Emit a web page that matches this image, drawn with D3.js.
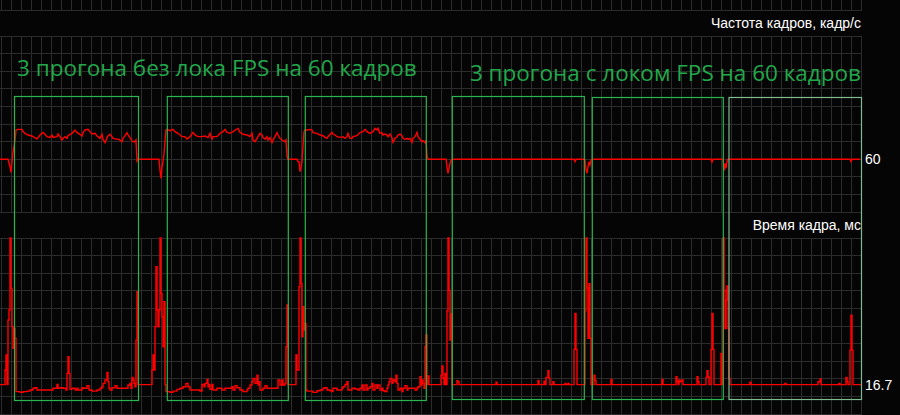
<!DOCTYPE html>
<html>
<head>
<meta charset="utf-8">
<script src="https://cdn.jsdelivr.net/npm/d3@7/dist/d3.min.js"></script>
<style>
  html, body { margin: 0; padding: 0; background: #050505; }
  svg { display: block; }
</style>
</head>
<body>
<div id="chart"></div>
<script>
const wh = 900,
    ht = 415;

// framerate, [sample, fps]
const fpsData = [
  [0,60],[8,60],[10,51.5],[11,45],[12,57],[13,68],[15,80.7],[16,93.2],[18,93.9],[22,93.9],[23,91.3],[25,89.4],
  [28,87.5],[32,86.4],[33,85.6],[37,83],[38,84.5],[40,87.5],[43,90.5],[45,88.3],[47,85.6],[50,84.8],[52,87.5],
  [53,84.8],[57,85.6],[58,88.6],[60,85.6],[62,81.8],[63,83.7],[65,85.6],[67,83.7],[68,86.7],[72,89.4],[75,93.2],
  [77,90.5],[80,88.3],[82,86.4],[83,90.2],[85,93.2],[88,93.9],[90,91.3],[92,88.6],[95,89.4],[97,86.4],[98,85.6],
  [100,83.7],[102,88.3],[103,82.6],[105,78.8],[107,84.5],[108,86.4],[110,88.3],[112,85.6],[113,83.7],[117,82.6],
  [118,83],[120,81.8],[122,79.9],[123,83.7],[125,86.7],[127,90.2],[128,87.5],[130,84.5],[132,81.1],[133,79.9],
  [135,79.9],[136,81.8],[137,58],[138,60],
  [159,60],[160,47.7],[161,38.2],[162,50.7],[163,57],[164,66],[165,80],[166,93.2],
  [167,93.9],[170,92.4],[173,93.9],[175,91.3],[178,89.4],[182,85.6],[185,85.6],[187,83],[190,85.6],[193,90.5],
  [195,87.5],[198,85.6],[202,85.6],[205,86.4],[208,84.5],[210,89.4],[212,83],[213,85.6],[217,85.6],[220,89.4],
  [223,91.3],[225,93.9],[227,90.5],[230,89.4],[233,91.3],[237,94.3],[238,95],[240,90.5],[243,88.3],[247,87.5],
  [250,85.6],[252,89.4],[253,81.8],[255,79.9],[257,83.7],[258,85.6],[260,89.4],[262,87.5],[263,84.5],[265,83],
  [267,85.6],[268,81.8],[270,84.5],[272,78.8],[273,81.8],[275,85.6],[277,90.2],[278,87.5],[280,83.7],[282,81.8],
  [283,81.1],[285,79.9],[286,81.8],[287,63],[288,60],
  [297,60],[298,57.2],[299,57.2],[300,45.8],[301,50.7],[302,57.2],[303,74.2],[304,91.3],
  [305,93.2],[307,93.2],[310,93.9],[312,93.2],[313,90.2],[317,89.4],[320,87.5],[323,86.7],[325,84.8],[327,83.7],
  [328,85.6],[332,90.5],[333,88.6],[335,87.5],[337,85.6],[340,84.8],[343,85.6],[345,83.7],[347,85.6],[348,89.4],
  [350,83.7],[352,83.7],[353,85.6],[357,86.7],[360,90.2],[363,91.3],[365,93.9],[367,91.3],[370,89.4],[373,91.3],
  [375,95],[377,93.2],[378,95],[380,89.4],[382,90.2],[383,87.5],[385,88.6],[387,87.5],[388,85.6],[390,88.6],
  [392,84.5],[393,79.1],[395,83.7],[397,85.6],[398,87.5],[400,88.6],[402,86.7],[403,83.7],[405,82.6],[407,83.7],
  [408,82.6],[410,83.7],[412,79.1],[413,83.7],[415,85.6],[417,90.5],[418,85.6],[420,82.6],[422,79.9],[423,81.1],
  [425,78.8],[426,81.8],[427,64.7],[428,60],
  [446,60],[447,51.5],[448,43.9],[449,49.6],[450,55.3],[451,58.3],[452,60],
  [574,60],[575,57.2],[576,60],
  [585,60],[586,47.7],[587,44],[588,51.5],[589,57.2],[590,53.4],[591,58.3],[592,60],
  [711,60],[712,56.8],[713,60],
  [723,60],[724,47],[725,55.3],[726,49.6],[727,57.2],[728,60],
  [850,60],[851,57.2],[852,60],[860,60]
];

// frame time, [sample, ms]
const frametimeData = [
  [0,16.7],[5,25],[6,33.5],[7,16.7],[8,53.4],[9,59.1],[10,100],[11,71.4],[12,49.6],[13,37.3],[14,48.6],[15,43],
  [16,12.7],[20,12.3],[23,12.7],[27,13],[30,13.6],[33,14.6],[35,14.9],[37,13.6],[43,13.6],[50,13.6],[53,14.6],
  [57,16.8],[58,14.6],[60,14.9],[63,14.6],[66,13.6],[67,23.1],[68,32.5],[69,23.1],[70,14],[72,14.6],[75,13.6],
  [77,14.6],[78,13.6],[82,14.9],[83,14.6],[87,16.1],[89,13.6],[92,13],[97,13.6],[100,14.6],[102,15.5],[103,17.4],
  [105,19.3],[107,23.6],[108,18.3],[109,14.6],[110,13.6],[112,14.9],[115,16.1],[117,14.6],[120,14.6],[123,14.6],
  [127,14.6],[128,16.5],[130,17.4],[131,14.6],[132,20.8],[133,19.3],[134,17.4],[135,15.5],[136,42],[137,69.5],
  [138,16.7],[152,25],[153,33.5],[154,25],[155,49.6],[156,83.7],[157,59.1],[158,49.6],[159,59.1],[160,100],
  [161,68.5],[162,55.3],[163,38.2],[164,63.8],[165,16.7],
  [166,12.7],[170,12.3],[173,13],[177,14],[180,14.6],[183,15.5],[186,17.4],[188,15.5],[190,13.6],[197,13.6],
  [200,13],[202,16.8],[204,15.5],[205,17.4],[207,19.7],[208,15.5],[209,16.8],[210,14],[212,16.8],[213,13.6],
  [217,14.6],[222,13.6],[225,14.6],[232,15.5],[233,13.6],[235,16.1],[237,14.9],[240,13.6],[243,12.7],[247,13.6],
  [248,14.6],[250,16.5],[252,18.3],[253,20.2],[255,17.4],[257,22.1],[258,16.5],[259,18.3],[260,13.6],[263,14.6],
  [265,16.1],[267,14.6],[278,19.3],[280,16.5],[282,19.3],[283,16.5],[285,17.4],[286,38.2],[287,61.9],
  [288,16.7],[296,33.5],[297,25],[299,72.3],[300,100],[301,74.2],[302,43.9],[303,61],[304,47.7],[305,51.5],
  [306,13.6],[307,13],[310,13],[313,12.3],[317,13.2],[320,13.6],[323,14.6],[325,14.9],[327,13.6],[330,13.2],
  [332,12.7],[333,14.6],[337,13.6],[342,14.6],[343,15.5],[345,16.8],[347,18.3],[348,13.6],[352,14.6],[355,14.2],
  [358,13.6],[360,14.6],[362,16.5],[363,13.6],[365,16.5],[367,13.6],[368,14.6],[370,15.5],[372,17.4],[373,13.6],
  [375,16.5],[377,14.6],[378,16.5],[380,13.6],[382,14.6],[383,13.2],[385,12.7],[387,14.6],[388,16.5],[389,18.3],
  [390,20.2],[392,17.4],[393,19.3],[395,18.3],[396,22.1],[397,17.4],[398,13.6],[400,14.6],[402,12.7],[403,14.6],
  [405,16.1],[407,13.6],[408,14.6],[415,13.6],[417,14.6],[418,15.5],[420,21.2],[421,16.5],[422,19.3],[423,17.4],
  [424,14.6],[425,38.2],[426,44.9],[427,16.7],[428,21.6],[429,16.7],
  [441,22.1],[442,27.3],[443,20.3],[444,16.7],[445,23.1],[446,16.7],[447,58.7],[448,100],[449,70.4],[450,42],
  [451,56.8],[452,16.7],
  [457,18.9],[458,18.4],[459,16.7],[496,18],[497,16.7],[538,19],[539,16.7],[544,18.7],[545,16.7],[546,20.8],
  [548,24.6],[549,20.3],[550,16.7],[553,18.4],[554,16.7],[565,17.4],[566,16.7],[568,17.4],[569,16.7],[574,36.7],
  [575,57.2],[576,36.7],[577,16.7],
  [585,58.7],[586,100],[587,71.5],[588,43],[589,74],[590,43],[591,16.7],[594,22],[595,19],[596,16.7],
  [611,19.7],[612,16.7],[662,19.7],[663,16.7],[676,21.2],[677,18.3],[678,16.7],[679,19.3],[680,18.3],[681,18.7],
  [682,19.3],[683,16.7],[697,21.2],[698,18.3],[699,16.7],[706,20.8],[707,24.6],[708,21.2],[709,16.7],[711,36.7],
  [712,57.2],[713,36.7],[714,16.7],[721,34.4],[722,16.7],[723,100],[724,70.4],[725,48.6],[726,64.8],[727,72.7],
  [728,48.6],[729,20.2],[730,16.7],
  [750,18],[751,16.7],[785,17.4],[786,16.7],[818,18.3],[820,19.9],[821,16.7],[839,17.4],[840,16.7],[846,20.8],
  [847,18.3],[848,16.7],[850,36.3],[851,56.2],[852,36.3],[853,16.7],[861,16.7]
];

// highlighted runs, in samples
const runStart = [14.5, 167.3, 305.3, 452.3, 592.3, 729];
const runEnd   = [138.5, 288.3, 426.3, 584.3, 723.3, 861.5];

const fpsTickLabel = 60,
    frametimeTickLabel = 16.7;

const titleNoLock = "3 прогона без лока FPS на 60 кадров",
    titleLock = "3 прогона с локом FPS на 60 кадров",
    fpsLabel = "Частота кадров, кадр/с",
    frametimeLabel = "Время кадра, мс";

const gridLeft = 1.5,
    gridRight = 861.5,
    panelH = 176,
    fpsTop = 36,
    ftTop = 238;

const svg = d3.select("#chart")
    .append("svg")
    .attr("width", wh)
    .attr("height", ht)

svg.append("rect")
    .attr("width", wh)
    .attr("height", ht)
    .attr("fill", "#050505")

var x = d3.scaleLinear()
        .domain([0, 860])
        .range([0, 860])

var yFps = d3.scaleLinear()
        .domain([0, 200])
        .range([fpsTop + panelH, fpsTop])

var yFt = d3.scaleLinear()
        .domain([0, 100])
        .range([ftTop + panelH, ftTop])

function drawGrid(y, clipTop) {
    var g = svg.append("g").attr("class", "grid")
    var top = Math.max(y.range()[1], clipTop),
        bottom = y.range()[0]

    g.selectAll("line.v")
        .data(d3.range(gridLeft, gridRight + 0.1, 10))
        .enter()
        .append("line")
        .attr("class", "v")
        .attr("x1", function(d) { return d })
        .attr("x2", function(d) { return d })
        .attr("y1", top)
        .attr("y2", bottom)

    g.selectAll("line.h")
        .data(y.ticks(10).filter(function(d) { return y(d) >= clipTop }))
        .enter()
        .append("line")
        .attr("class", "h")
        .attr("x1", gridLeft - 1.5)
        .attr("x2", gridRight)
        .attr("y1", function(d) { return y(d) })
        .attr("y2", function(d) { return y(d) })

    g.selectAll("line")
        .attr("stroke", "#2c2c2c")
        .attr("stroke-width", 1)
        .attr("shape-rendering", "crispEdges")
}

// panel above, only its bottom edge shows
var yPrev = d3.scaleLinear().domain([0, 100]).range([fpsTop - 26, fpsTop - 26 - panelH])
drawGrid(yPrev, 0)
drawGrid(yFps, 0)
drawGrid(yFt, 0)

var fpsLine = d3.line()
    .x(function(d) { return x(d[0]) })
    .y(function(d) { return yFps(d[1]) })

var ftLine = d3.line()
    .curve(d3.curveStepAfter)
    .x(function(d) { return x(d[0]) })
    .y(function(d) { return yFt(d[1]) })

svg.append("path")
    .datum(fpsData)
    .attr("d", fpsLine)
    .attr("fill", "none")
    .attr("stroke", "#ff0000")
    .attr("stroke-width", 1.4)

svg.append("path")
    .datum(frametimeData)
    .attr("d", ftLine)
    .attr("fill", "none")
    .attr("stroke", "#ff0000")
    .attr("stroke-width", 1.4)

// run boxes
svg.selectAll("rect.run")
    .data(runStart)
    .enter()
    .append("rect")
    .attr("class", "run")
    .attr("x", function(d) { return x(d) })
    .attr("y", function(d, i) { return i < 4 ? 96.5 : 97.5 })
    .attr("width", function(d, i) { return x(runEnd[i]) - x(d) })
    .attr("height", function(d, i) { return (i < 3 ? 400.5 : 399.5) - (i < 4 ? 96.5 : 97.5) })
    .attr("fill", "none")
    .attr("stroke", function(d, i) { return i == 5 ? "#7fb98f" : "#29b54f" })
    .attr("stroke-width", 1.2)

// labels
svg.append("text")
    .attr("x", 861)
    .attr("y", 28)
    .attr("text-anchor", "end")
    .attr("fill", "#ffffff")
    .style("font", "14px 'Liberation Sans', Arial, sans-serif")
    .text(fpsLabel)

svg.append("text")
    .attr("x", 861)
    .attr("y", 230)
    .attr("text-anchor", "end")
    .attr("fill", "#ffffff")
    .style("font", "14px 'Liberation Sans', Arial, sans-serif")
    .text(frametimeLabel)

svg.append("text")
    .attr("x", 865)
    .attr("y", yFps(fpsTickLabel) + 5)
    .attr("fill", "#ffffff")
    .style("font", "14px 'Liberation Sans', Arial, sans-serif")
    .text(fpsTickLabel)

svg.append("text")
    .attr("x", 865)
    .attr("y", yFt(frametimeTickLabel) + 5)
    .attr("fill", "#ffffff")
    .style("font", "14px 'Liberation Sans', Arial, sans-serif")
    .text(frametimeTickLabel)

svg.append("text")
    .attr("x", 17)
    .attr("y", 76)
    .attr("fill", "#22a84b")
    .style("font", "22.5px 'Open Sans', sans-serif")
    .text(titleNoLock)

svg.append("text")
    .attr("x", 861)
    .attr("y", 81)
    .attr("text-anchor", "end")
    .attr("fill", "#22a84b")
    .style("font", "22.5px 'Open Sans', sans-serif")
    .text(titleLock)
</script>
</body>
</html>
